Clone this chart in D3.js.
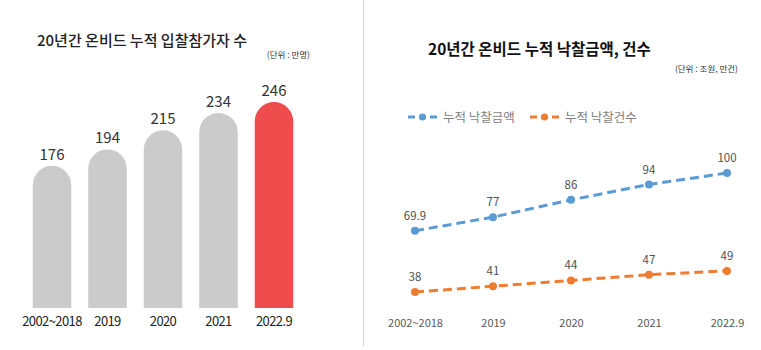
<!DOCTYPE html>
<html><head><meta charset="utf-8">
<script src="https://cdn.jsdelivr.net/npm/d3@7"></script>
<style>
html,body{margin:0;padding:0;background:#fff;}
svg{display:block;font-family:"Noto Sans CJK KR","Noto Sans",sans-serif;}
</style></head>
<body>
<svg id="c" width="761" height="350"></svg>
<script>
// ---- data ----
const categories = ["2002~2018","2019","2020","2021","2022.9"];
const participants = [176,194,215,234,246];
const bidAmount = [69.9,77,86,94,100];
const bidCount = [38,41,44,47,49];
const leftTitle = "20년간 온비드 누적 입찰참가자 수";
const leftUnit = "(단위 : 만명)";
const rightTitle = "20년간 온비드 누적 낙찰금액, 건수";
const rightUnit = "(단위 : 조원, 만건)";
const seriesNames = ["누적 낙찰금액","누적 낙찰건수"];

const svg = d3.select("#c");

// divider
svg.append("line").attr("x1",363.5).attr("x2",363.5).attr("y1",0).attr("y2",346)
  .attr("stroke","#d0d0d0").attr("stroke-width",1);

// ---- left chart ----
const L = svg.append("g");
L.append("text").attr("x",37).attr("y",46).attr("font-size",15).attr("font-weight",500)
  .attr("fill","#222").text(leftTitle);
L.append("text").attr("x",310).attr("y",58).attr("text-anchor","end").attr("font-size",8.5)
  .attr("fill","#333").text(leftUnit);

const xb = d3.scaleBand().domain(categories).range([16.1,309.9]).paddingInner(0.306).paddingOuter(0.3);
const yb = d3.scaleLinear().domain([20,246]).range([308,102]);
const bw = xb.bandwidth();
const r = bw/2;
categories.forEach((c,i)=>{
  const x0 = xb(c), top = yb(participants[i]), bottom = yb(20);
  const p = `M${x0},${bottom} L${x0},${top+r} A${r},${r} 0 0 1 ${x0+bw},${top+r} L${x0+bw},${bottom} Z`;
  L.append("path").attr("d",p).attr("fill", i===categories.length-1 ? "#ee4c4d" : "#cbcbcb");
  L.append("text").attr("x",x0+bw/2).attr("y",top-6).attr("text-anchor","middle")
    .attr("font-size",15).attr("fill","#333").text(participants[i]);
});
const axL = L.append("g").attr("transform","translate(0,308)")
  .call(d3.axisBottom(xb).tickSize(0).tickPadding(9));
axL.select(".domain").remove();
axL.selectAll("text").attr("font-size",13).attr("fill","#222").attr("letter-spacing",-0.6)
  .attr("font-family","'Noto Sans CJK KR','Noto Sans',sans-serif");

// ---- right chart ----
const R = svg.append("g");
R.append("text").attr("x",428).attr("y",55).attr("font-size",15.5).attr("font-weight",700)
  .attr("fill","#111").text(rightTitle);
R.append("text").attr("x",738).attr("y",72).attr("text-anchor","end").attr("font-size",8.5)
  .attr("fill","#333").text(rightUnit);

const xp = d3.scalePoint().domain(categories).range([415,727]);
const yp = d3.scaleLinear().domain([38,100]).range([292,173]);
const colors = ["#5b9bd5","#ed7d31"];
const series = [bidAmount,bidCount];

// legend
const legX = [408,530];
seriesNames.forEach((n,k)=>{
  const g = R.append("g").attr("transform",`translate(${legX[k]},117)`);
  g.append("line").attr("x1",0).attr("x2",29).attr("y1",0).attr("y2",0)
    .attr("stroke",colors[k]).attr("stroke-width",3).attr("stroke-dasharray","7,4");
  g.append("circle").attr("cx",14.5).attr("cy",0).attr("r",3.5).attr("fill",colors[k]);
  g.append("text").attr("x",35).attr("y",4.5).attr("font-size",12.5).attr("fill","#7f7f7f").text(n);
});

const line = d3.line().x((d,i)=>xp(categories[i])).y(d=>yp(d));
series.forEach((s,k)=>{
  R.append("path").datum(s).attr("d",line).attr("fill","none").attr("stroke",colors[k])
    .attr("stroke-width",3).attr("stroke-dasharray","9,5");
  R.selectAll(null).data(s).enter().append("circle")
    .attr("cx",(d,i)=>xp(categories[i])).attr("cy",d=>yp(d)).attr("r",4).attr("fill",colors[k]);
  R.selectAll(null).data(s).enter().append("text")
    .attr("x",(d,i)=>xp(categories[i])).attr("y",d=>yp(d)-11).attr("text-anchor","middle")
    .attr("font-size",11.5).attr("fill","#505050").text(d=>d);
});
const axR = R.append("g").attr("transform","translate(0,292)")
  .call(d3.axisBottom(xp).tickSize(0).tickPadding(27));
axR.select(".domain").remove();
axR.selectAll("text").attr("font-size",11).attr("fill","#595959")
  .attr("font-family","'Noto Sans CJK KR','Noto Sans',sans-serif");
</script>
</body></html>
